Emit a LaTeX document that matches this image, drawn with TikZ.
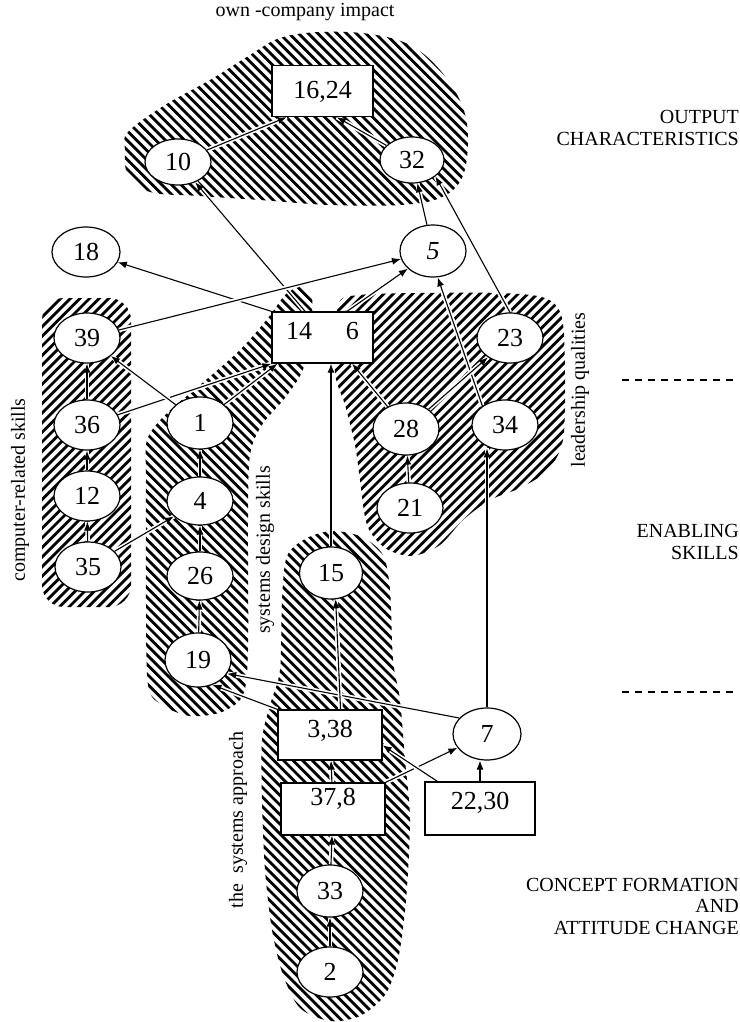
\documentclass[tikz,border=0pt]{standalone}
\usepackage{fontspec}
\setmainfont{Liberation Serif}
\usetikzlibrary{shapes.geometric,arrows.meta,calc}
\pgfdeclarelayer{hatchlayer}
\pgfdeclarelayer{edgelayer}
\pgfsetlayers{hatchlayer,edgelayer,main}
\newcommand\numfont{\fontsize{26}{28}\selectfont}
\newcommand\lblfont{\fontsize{20}{21.5}\selectfont}
% back-slash hatching: lines x - y = c
\newcommand\hatchBk[4]{%
  \pgfmathsetmacro\hN{int((#2-(#1))/9.6)+1}%
  \foreach \i in {0,...,\hN}{\draw[hatchline] ({#1+9.6*\i+#3},#3) -- ({#1+9.6*\i+#4},#4);}}
% forward-slash hatching: lines x + y = c
\newcommand\hatchFw[4]{%
  \pgfmathsetmacro\hN{int((#2-(#1))/9.6)+1}%
  \foreach \i in {0,...,\hN}{\draw[hatchline] ({#1+9.6*\i-#3},#3) -- ({#1+9.6*\i-#4},#4);}}
\begin{document}
\begin{tikzpicture}[x=1pt,y=-1pt,
  hatchline/.style={line width=2.8pt,line cap=butt,black},
  ell/.style={ellipse,draw,line width=1.2pt,fill=white,minimum width=66pt,minimum height=50pt,inner sep=0pt,font=\numfont},
  boxn/.style={rectangle,draw,line width=1.3pt,fill=white,minimum width=101pt,minimum height=51pt,inner sep=0pt,font=\numfont},
  arr/.style={-{Latex[length=9pt,width=7pt]},line width=1.1pt,preaction={draw=white,line width=4.5pt,-}},
  lbl/.style={font=\lblfont,inner sep=0pt},
  dashline/.style={line width=1.4pt,dash pattern=on 7pt off 6pt}]
\useasboundingbox (0,0) rectangle (739,1022);

\begin{pgfonlayer}{hatchlayer}
\fill[white] (0,0) rectangle (739,1022);
\begin{scope}
\clip plot[smooth cycle,tension=0.6] coordinates {(125,150) (128,132) (165,105) (210,80) (250,55) (280,38) (320,32) (370,34) (410,45) (440,70) (462,105) (468,140) (462,178) (440,198) (400,205) (330,205) (260,200) (200,196) (150,192) (128,175)};
\hatchBk{-90}{447}{28}{210}
\end{scope}
\begin{scope}
\clip[rounded corners=22pt] (42,298) rectangle (131,607);
\hatchFw{340}{740}{296}{609}
\end{scope}
\begin{scope}
\clip plot[smooth cycle,tension=0.5] coordinates {(147,440) (165,415) (200,385) (240,350) (268,318) (285,295) (300,287) (312,297) (310,340) (302,372) (285,398) (262,425) (250,455) (248,520) (248,650) (243,695) (222,712) (190,716) (162,705) (148,685) (146,600) (146,480)};
\hatchBk{-575}{32}{284}{720}
\end{scope}
\begin{scope}
\clip plot[smooth cycle,tension=0.5] coordinates {(338,305) (360,295) (420,293) (500,293) (545,298) (562,318) (565,380) (563,440) (548,470) (520,488) (490,500) (463,520) (440,545) (412,556) (385,548) (367,525) (360,480) (355,445) (345,405) (335,372)};
\hatchFw{620}{1128}{288}{560}
\end{scope}
\begin{scope}
\clip plot[smooth cycle,tension=0.5] coordinates {(282,600) (287,556) (307,538) (333,531) (362,537) (383,555) (390,590) (393,660) (400,700) (405,760) (410,820) (406,900) (398,960) (385,995) (360,1016) (330,1021) (300,1008) (283,975) (272,930) (265,870) (262,800) (262,740) (270,705) (280,670)};
\hatchBk{-765}{-114}{528}{1024}
\end{scope}
\end{pgfonlayer}

% nodes
\node[boxn,text depth=2pt] (b1624) at (322.5,91) {16,24};
\node[ell,minimum height=46pt] (n10) at (178,162) {10};
\node[ell,minimum width=64pt,minimum height=46pt] (n32) at (412,160) {32};
\node[ell,minimum width=68pt] (n18) at (86,252) {18};
\node[ell,minimum height=52pt] (n5) at (433,251) {\textit{5}};
\node[boxn,text depth=14pt] (b146) at (322.5,337.5) {14\hspace{34pt}6};
\node[ell] (n39) at (87,338) {39};
\node[ell] (n36) at (87,425) {36};
\node[ell] (n12) at (87,496) {12};
\node[ell] (n35) at (88,567) {35};
\node[ell,minimum height=52pt] (n1) at (200,423) {1};
\node[ell,minimum height=48pt] (n4) at (200,501) {4};
\node[ell,minimum height=48pt] (n26) at (200,576) {26};
\node[ell,minimum height=54pt] (n19) at (198,660) {19};
\node[ell,minimum width=63pt,minimum height=52pt] (n15) at (331,573) {15};
\node[ell,minimum width=68pt,minimum height=52pt] (n7) at (487,734) {7};
\node[boxn,minimum width=104pt,minimum height=50pt,text depth=12pt] (b338) at (330,735) {3,38};
\node[boxn,minimum width=104pt,minimum height=52pt,text depth=24pt] (b378) at (333,809) {37,8};
\node[boxn,minimum width=110pt,minimum height=53pt,text depth=16pt] (b2230) at (480,808.5) {22,30};
\node[ell,minimum height=52pt] (n33) at (330,891) {33};
\node[ell] (n2) at (330,972) {2};
\node[ell,minimum height=52pt] (n28) at (406,429) {28};
\node[ell] (n34) at (505,425) {34};
\node[ell] (n23) at (510,338) {23};
\node[ell] (n21) at (410,508) {21};

% labels
\node[lbl] (title) at (305,12) {own -company impact};
\node[lbl,anchor=east,align=right] (outc) at (739,128) {OUTPUT\\CHARACTERISTICS};
\node[lbl,anchor=east,align=right] (ens) at (739,542) {ENABLING\\SKILLS};
\node[lbl,anchor=east,align=right] (caf) at (739,906) {CONCEPT FORMATION\\AND\\ATTITUDE CHANGE};
\node[lbl,rotate=90] (crs) at (20,490) {computer-related skills};
\node[lbl,rotate=90] (sds) at (265,550) {systems design skills};
\node[lbl,rotate=90] (lq) at (580,390) {leadership qualities};
\node[lbl,rotate=90] (tsa) at (238,820) {the\ \ systems approach};

% dashed separators
\coordinate (d1a) at (622,380); \coordinate (d1b) at (739,380);
\coordinate (d2a) at (622,692); \coordinate (d2b) at (739,692);
\draw[dashline] (d1a) -- (d1b);
\draw[dashline] (d2a) -- (d2b);

% connectors
\begin{pgfonlayer}{edgelayer}
\draw[arr] (n10) -- ($(b1624.south west)!0.15!(b1624.south east)$);
\draw[arr] (n32) -- ($(b1624.south west)!0.64!(b1624.south east)$);
\draw[arr] ($(b146.north west)!0.33!(b146.north east)$) -- (n10);
\draw[arr] (b146.north west) -- (n18);
\draw[arr] (n39) -- (n5);
\draw[arr] ($(b146.north west)!0.74!(b146.north east)$) -- (n5);
\draw[arr] (n34.140) -- (n5.-80);
\draw[arr] (n5) -- (n32);
\draw[arr] (n23.north) -- (n32.-35);
\draw[arr] (n28) -- ($(b146.south west)!0.79!(b146.south east)$);
\draw[arr] (n28) -- (n23);
\draw[arr] (n21) -- (n28);
\draw[arr] (n7.north) -- (n7.north |- n34.-120);
\draw[arr] (n15) -- (n15 |- b146.south);
\draw[arr] (n36) -- (b146.south west);
\draw[arr] (n1) -- ($(b146.south west)!0.06!(b146.south east)$);
\draw[arr] (n1) -- (n39);
\draw[arr] (n36) -- (n39);
\draw[arr] (n12) -- (n36);
\draw[arr] (n35) -- (n12);
\draw[arr] (n35) -- (n4);
\draw[arr] (n4) -- (n1);
\draw[arr] (n26) -- (n4);
\draw[arr] (n19) -- (n26);
\draw[arr] (n7.150) -- (n19.-25);
\draw[arr] (b338.north west) -- (n19.-60);
\draw[arr] ($(b338.north west)!0.6!(b338.north east)$) -- (n15.-80);
\draw[arr] (b378) -- (b338);
\draw[arr] (b378.north east) -- (n7.-155);
\draw[arr] ($(b2230.north west)+(13,0)$) -- ($(b338.north east)!0.7!(b338.south east)$);
\draw[arr] (b2230.north) -- (b2230.north |- n7.south);
\draw[arr] (n33) -- (b378);
\draw[arr] (n2) -- (n33);
\end{pgfonlayer}
\end{tikzpicture}
\end{document}
